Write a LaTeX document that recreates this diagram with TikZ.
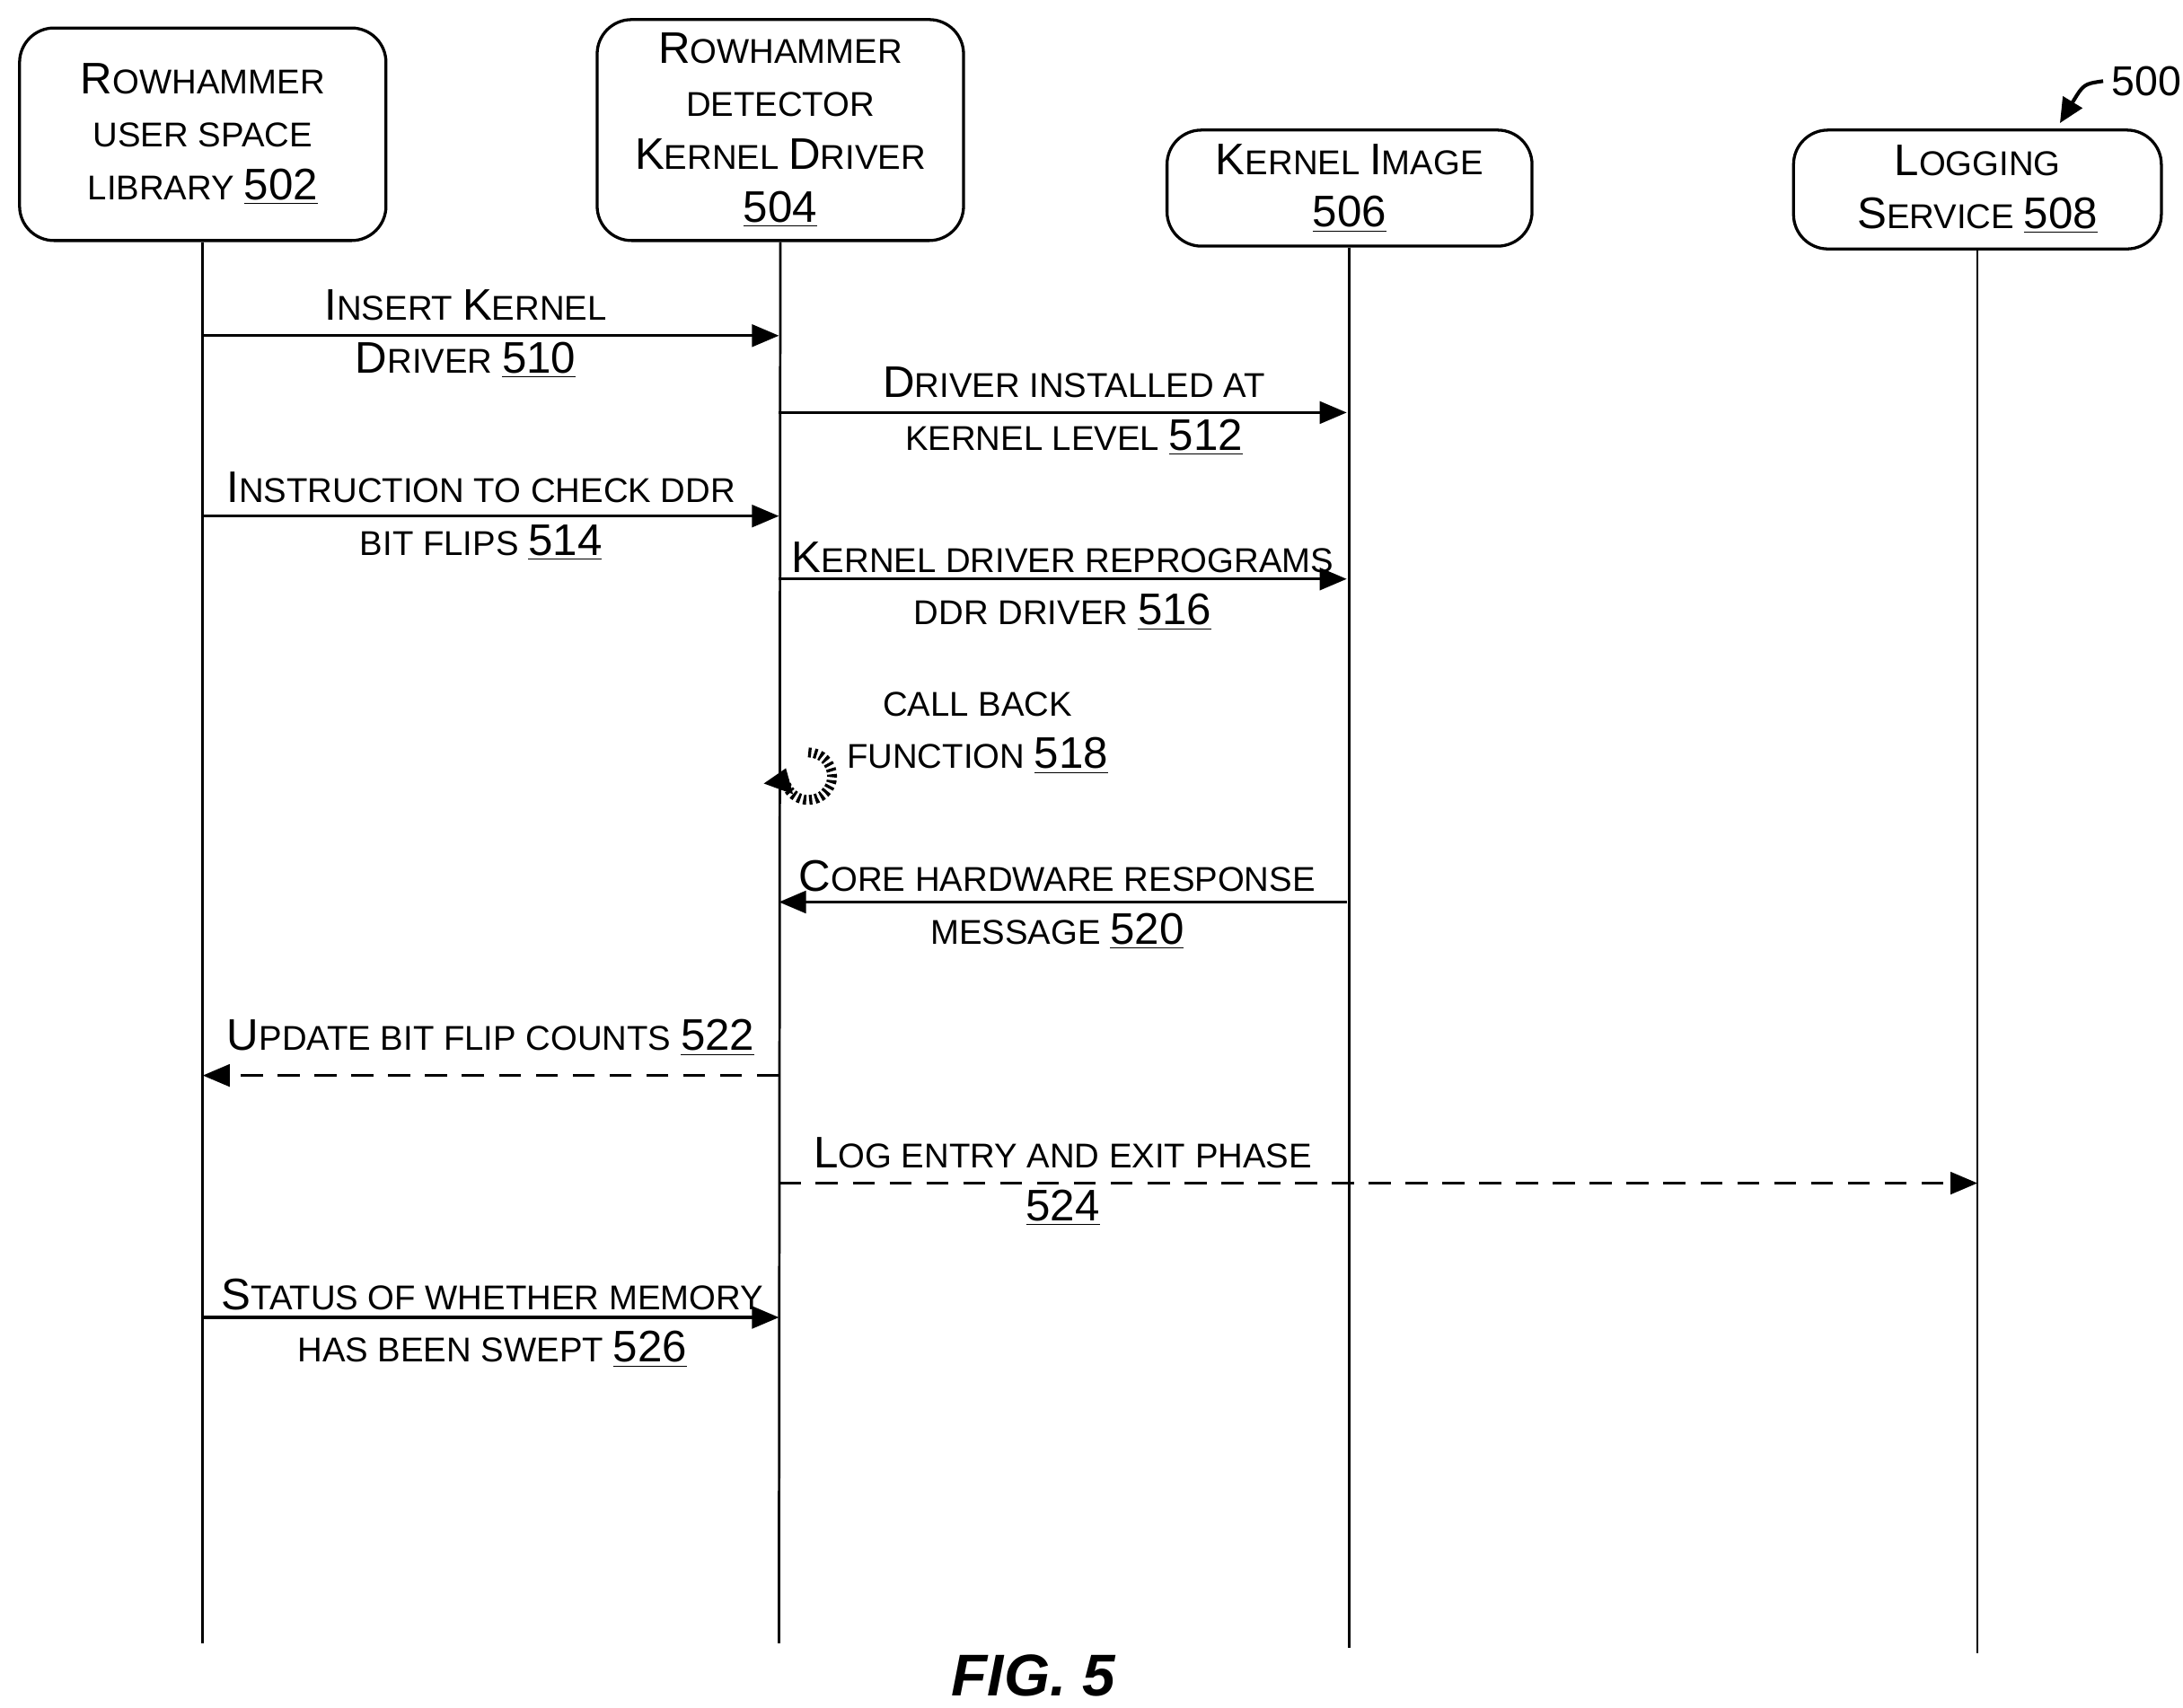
\documentclass[tikz,border=0pt]{standalone}
\usepackage{fontspec}
\setmainfont{Liberation Sans}
\usetikzlibrary{arrows.meta}
\newcommand\B[1]{{\fontsize{18}{21.5}\selectfont #1}}
\newcommand\U[1]{\B{\underline{#1}}}
\begin{document}
\begin{tikzpicture}[x=0.02cm,y=-0.02cm,
  box/.style={draw,line width=1.2pt,rounded corners=14pt,align=center,inner sep=0pt,font=\fontsize{14}{21.5}\selectfont},
  life/.style={line width=1pt},
  msg/.style={line width=1.2pt,-{Triangle[length=11pt,width=9pt]}},
  dmsg/.style={msg,dash pattern=on 9pt off 6pt},
  lbl/.style={align=center,font=\fontsize{14}{21.5}\selectfont,inner sep=0pt}]
\useasboundingbox (0,0) rectangle (1561,1221);
\node[box,minimum width=262*0.02cm,minimum height=152*0.02cm] (b1) at (145,96) {\B{R}OWHAMMER\\USER SPACE\\LIBRARY \U{502}};
\node[box,minimum width=262*0.02cm,minimum height=158*0.02cm] (b2) at (558,93) {\B{R}OWHAMMER\\DETECTOR\\\B{K}ERNEL \B{D}RIVER\\\U{504}};
\node[box,minimum width=261*0.02cm,minimum height=83*0.02cm] (b3) at (965,134.5) {\B{K}ERNEL \B{I}MAGE\\\U{506}};
\node[box,minimum width=263*0.02cm,minimum height=85*0.02cm] (b4) at (1414,135.5) {\B{L}OGGING\\\B{S}ERVICE \U{508}};
\coordinate (e1) at (145,1175); \coordinate (e2) at (557,1175);
\coordinate (e3) at (965,1178); \coordinate (e4) at (1414,1182);
\draw[life] (b1.south) -- (e1); \draw[life] (b2.south) -- (e2);
\draw[life] (b3.south) -- (e3); \draw[life] (b4.south) -- (e4);
\foreach \n/\x in {a/145,b/557,c/963,d/1414}{
 \foreach \y in {240,295,369,414,645,769,846,942}{\coordinate (\n\y) at (\x,\y);}}
\draw[msg] (a240) -- (b240);
\node[lbl] at (333,239) {\B{I}NSERT \B{K}ERNEL\\\B{D}RIVER \U{510}};
\draw[msg] (b295) -- (c295);
\node[lbl] at (768,294) {\B{D}RIVER INSTALLED AT\\KERNEL LEVEL \U{512}};
\draw[msg] (a369) -- (b369);
\node[lbl] at (344,369) {\B{I}NSTRUCTION TO CHECK DDR\\BIT FLIPS \U{514}};
\draw[msg] (b414) -- (c414);
\node[lbl] at (760,419) {\B{K}ERNEL DRIVER REPROGRAMS\\DDR DRIVER \U{516}};
\draw[line width=4pt,dash pattern=on 1.2pt off 1.2pt,-{Triangle[length=9pt,width=12pt]}] (578,538) arc (-90:200:17);
\node[lbl] at (699,524) {CALL BACK\\FUNCTION \U{518}};
\draw[msg] (c645) -- (b645);
\node[lbl] at (756,647) {\B{C}ORE HARDWARE RESPONSE\\MESSAGE \U{520}};
\draw[dmsg] (b769) -- (a769);
\node[lbl] at (351,742) {\B{U}PDATE BIT FLIP COUNTS \U{522}};
\draw[dmsg] (b846) -- (d846);
\node[lbl] at (760,845) {\B{L}OG ENTRY AND EXIT PHASE\\\U{524}};
\draw[msg] (a942) -- (b942);
\node[lbl] at (352,946) {\B{S}TATUS OF WHETHER MEMORY\\HAS BEEN SWEPT \U{526}};
\node[font=\fontsize{24}{26}\selectfont\bfseries\itshape] (fig) at (739,1198) {FIG. 5};
\node[font=\fontsize{17}{20}\selectfont] (n500) at (1535,58) {500};
\draw[line width=1.5pt,-{Triangle[length=10pt,width=9pt]}] (n500.west) .. controls (1490,60) .. (1473,88);
\end{tikzpicture}
\end{document}
